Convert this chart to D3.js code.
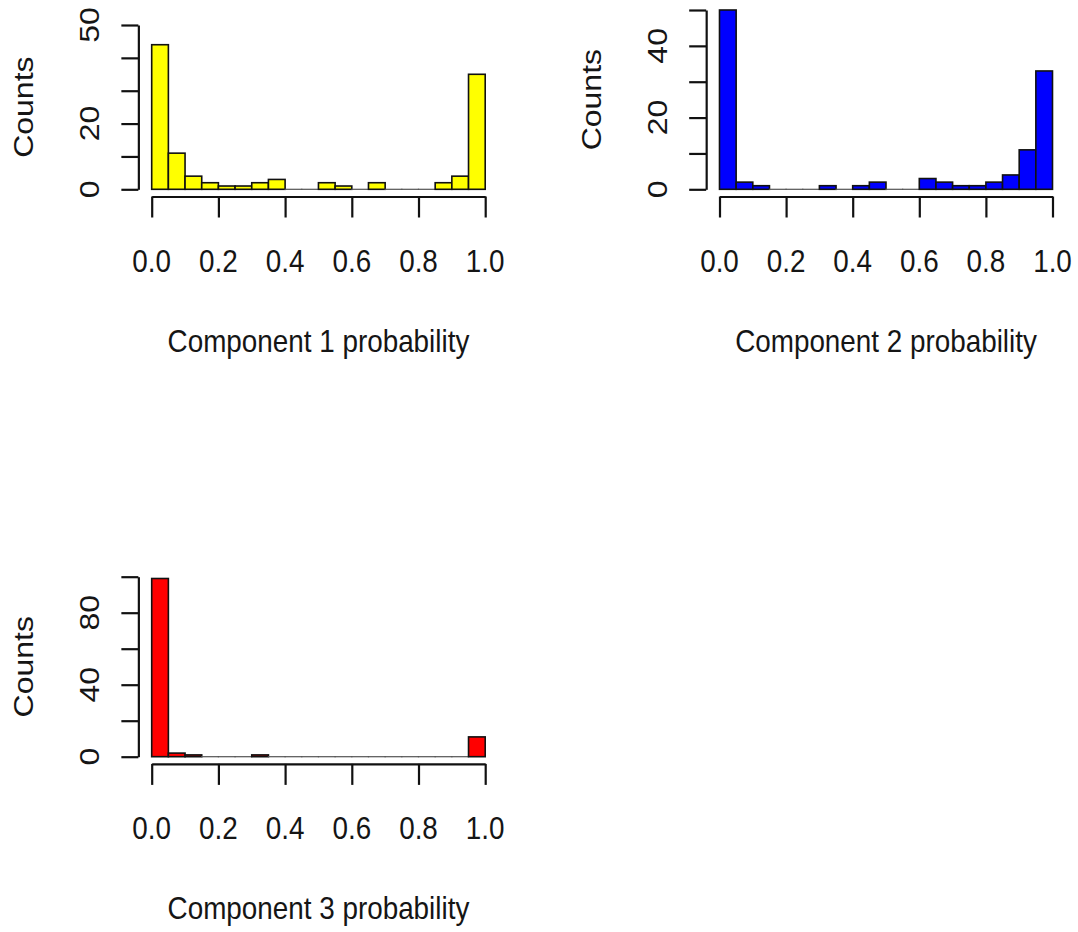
<!DOCTYPE html>
<html>
<head>
<meta charset="utf-8">
<script src="https://cdn.jsdelivr.net/npm/d3@7"></script>
<style>
  html, body { margin: 0; padding: 0; background: #fff; }
  svg { display: block; }
  text { font-family: "Liberation Sans", Arial, Helvetica, sans-serif; fill: #151515; }
</style>
</head>
<body>
<svg id="chart" width="1078" height="932"></svg>
<script>
// ---- data ----
const binEdges = d3.range(0, 1.0001, 0.05);           // 20 bins of width 0.05
const comp1Counts = [44, 11, 4, 2, 1, 1, 2, 3, 0, 0, 2, 1, 0, 2, 0, 0, 0, 2, 4, 35];
const comp2Counts = [50, 2, 1, 0, 0, 0, 1, 0, 1, 2, 0, 0, 3, 2, 1, 1, 2, 4, 11, 33];
const comp3Counts = [99, 2, 1, 0, 0, 0, 1, 0, 0, 0, 0, 0, 0, 0, 0, 0, 0, 0, 0, 11];
const panelTitles = ["Component 1 probability", "Component 2 probability", "Component 3 probability"];
const panelColors = ["#FFFF00", "#0000FF", "#FF0000"];
const xTicks = [0, 0.2, 0.4, 0.6, 0.8, 1.0];
const xTickLabels = ["0.0", "0.2", "0.4", "0.6", "0.8", "1.0"];
const y1Ticks = [0, 10, 20, 30, 40, 50];
const y1Labels = [0, 20, 50];
const y2Ticks = [0, 10, 20, 30, 40, 50];
const y2Labels = [0, 20, 40];
const y3Ticks = [0, 20, 40, 60, 80, 100];
const y3Labels = [0, 40, 80];
const yLabel = "Counts";

// ---- layout ----
const panels = [
  { counts: comp1Counts, color: panelColors[0], title: panelTitles[0], yTicks: y1Ticks, yLabels: y1Labels,
    x0: 151.7, x1: 485.2, yBase: 189.3, yTop: 25.0, yMax: 50 },
  { counts: comp2Counts, color: panelColors[1], title: panelTitles[1], yTicks: y2Ticks, yLabels: y2Labels,
    x0: 719.5, x1: 1052.5, yBase: 189.3, yTop: 10.0, yMax: 50 },
  { counts: comp3Counts, color: panelColors[2], title: panelTitles[2], yTicks: y3Ticks, yLabels: y3Labels,
    x0: 151.7, x1: 485.2, yBase: 756.7, yTop: 576.7, yMax: 100 }
];

const FS = 32, SX = 0.87;
const svg = d3.select("#chart");

panels.forEach(p => {
  const g = svg.append("g");
  const x = d3.scaleLinear().domain([0, 1]).range([p.x0, p.x1]);
  const y = d3.scaleLinear().domain([0, p.yMax]).range([p.yBase, p.yTop]);
  const axisX = p.x0 - 0.04 * (p.x1 - p.x0);   // y-axis position (R usr padding)
  const axisY = p.yBase + 7.2;                  // x-axis position

  const bins = p.counts.map((c, i) => ({ lo: binEdges[i], hi: binEdges[i + 1], c }));

  // bars (zero-count bins still drawn as a flat outline, like R)
  g.selectAll("rect.bar").data(bins).join("rect")
    .attr("class", "bar")
    .attr("x", d => x(d.lo))
    .attr("y", d => y(d.c))
    .attr("width", d => x(d.hi) - x(d.lo))
    .attr("height", d => Math.max(y(0) - y(d.c), 0.01))
    .attr("fill", p.color)
    .attr("stroke", d => d.c === 0 ? "#555" : "#111")
    .attr("stroke-width", d => d.c === 0 ? 1.2 : 1.6);

  // x axis
  const gx = g.append("g")
    .attr("transform", `translate(0,${axisY})`)
    .call(d3.axisBottom(x).tickValues(xTicks).tickSizeInner(21).tickSizeOuter(0).tickFormat(""));
  gx.selectAll("path, line").attr("stroke", "#111").attr("stroke-width", 2.2);

  // x tick labels
  g.selectAll("text.xt").data(xTicks).join("text")
    .attr("class", "xt")
    .attr("text-anchor", "middle")
    .attr("font-size", FS)
    .attr("transform", d => `translate(${x(d)},${axisY + 75}) scale(${SX},1)`)
    .text((d, i) => xTickLabels[i]);

  // y axis
  const gy = g.append("g")
    .attr("transform", `translate(${axisX},0)`)
    .call(d3.axisLeft(y).tickValues(p.yTicks).tickSizeInner(17).tickSizeOuter(0).tickFormat(""));
  gy.selectAll("path, line").attr("stroke", "#111").attr("stroke-width", 2.2);

  // y tick labels (rotated)
  g.selectAll("text.yt").data(p.yLabels).join("text")
    .attr("class", "yt")
    .attr("text-anchor", "middle")
    .attr("font-size", FS)
    .attr("transform", d => `translate(${axisX - 39.5},${y(d)}) scale(${SX},1) rotate(-90)`)
    .text(d => d);

  // axis titles
  const cx = (p.x0 + p.x1) / 2;
  g.append("text")
    .attr("text-anchor", "middle")
    .attr("font-size", FS)
    .attr("transform", `translate(${cx},${axisY + 155}) scale(${SX},1)`)
    .text(p.title);

  const regionTop = p.yTop - 7.2;
  const cy = (regionTop + axisY) / 2;
  g.append("text")
    .attr("text-anchor", "middle")
    .attr("font-size", FS)
    .attr("transform", `translate(${axisX - 105.5},${cy}) scale(${SX},1) rotate(-90)`)
    .text(yLabel);
});
</script>
</body>
</html>
